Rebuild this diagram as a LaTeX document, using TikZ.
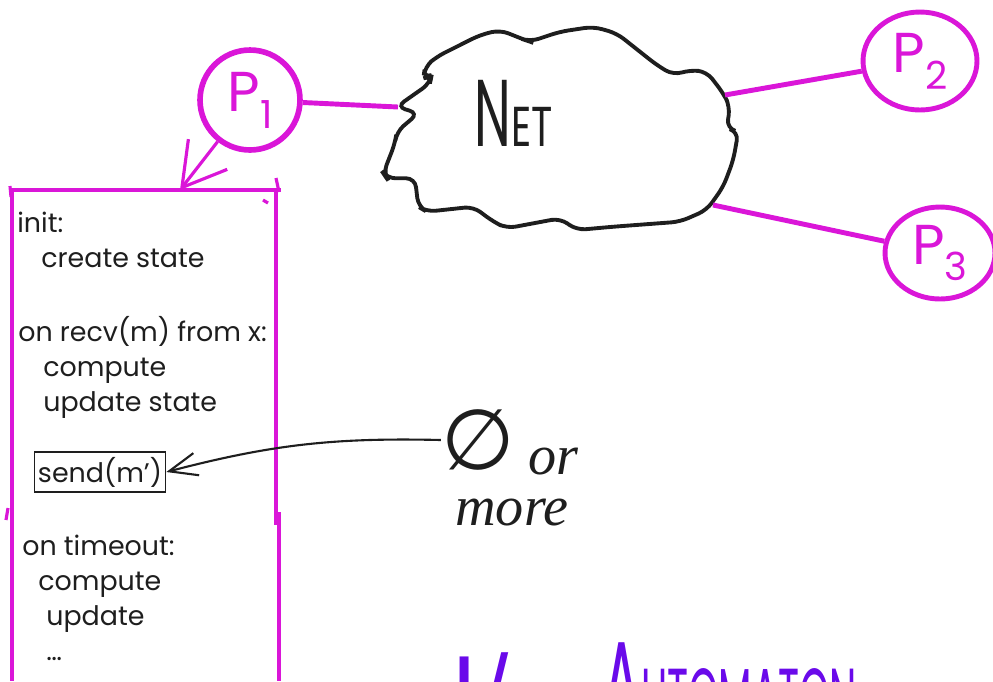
\documentclass[tikz,border=0pt]{standalone}
\usepackage{fontspec}
\setmainfont{Poppins}
\newfontfamily\notefont{Liberation Serif}
\newfontfamily\symfont{DejaVu Sans}
\usepackage{xcolor}
\usetikzlibrary{shapes.geometric,arrows.meta,positioning}

\definecolor{procpink}{RGB}{218,22,216}
\definecolor{autoviolet}{RGB}{106,10,234}
\definecolor{ink}{RGB}{30,30,30}

% subscript of a process name
\newcommand{\psub}[1]{\raisebox{-0.3em}{\fontsize{22}{22}\selectfont #1}}

\begin{document}
\begin{tikzpicture}[
  x=0.02cm, y=-0.02cm,
  proc/.style={ellipse, draw=procpink, line width=3.2pt, text=procpink,
               minimum width=2cm, minimum height=2cm, inner sep=0pt,
               font=\fontsize{32}{32}\selectfont},
  link/.style={procpink, line width=2.8pt},
  frame/.style={procpink, line width=1.8pt},
  code/.style={anchor=north west, align=left, inner sep=0pt, text=ink,
               font=\fontsize{15.3}{19.9}\selectfont},
  hand/.style={ink, line width=1.2pt},
  owner/.style={-{Straight Barb[length=24pt,width=28pt]}},
  note/.style={-{Straight Barb[length=16pt,width=13pt]}},
  notetext/.style={text=ink, anchor=base west, inner sep=0pt,
                   font=\notefont\itshape\fontsize{32}{32}\selectfont}
]
\useasboundingbox (0,0) rectangle (993,681);

% Processes
\node[proc] (p1) at (250,100) {P\psub{1}};
\node[proc, minimum width=2.28cm, minimum height=1.96cm, line width=2.8pt] (p2) at (920,61) {P\psub{2}};
\node[proc, minimum width=2.2cm, minimum height=1.84cm, line width=2.8pt] (p3) at (940,253) {P\psub{3}};

% Network cloud
\draw[ink, line width=2.2pt, rounded corners=5pt]
  (396.7,106.7) -- (418.3,113.3) -- (396.7,131.7) -- (395,143.3) -- (383.3,173.3)
  -- (386.7,178.3) -- (415,178.3) -- (418.3,206.7) -- (426.7,211.7) -- (473.3,206.7)
  -- (493.3,221.7) -- (506.7,228.3) -- (560,218.3) -- (576.7,230) -- (613.3,226.7)
  -- (680,221.7) -- (706.7,210) -- (723.3,186.7) -- (733.3,160) -- (738.3,131.7)
  -- (726.7,128.3) -- (730,106.7) -- (723.3,93.3) -- (706.7,71.7) -- (690,70)
  -- (673.3,75) -- (656.7,65) -- (616.7,33.3) -- (593.3,26.7) -- (560,31.7)
  -- (530,41.7) -- (525,40) -- (500,30) -- (480,35) -- (436.7,56.7)
  -- (425,66.7) -- (423.3,78.3) -- (431.7,75) -- (430,83.3) -- (413.3,95) -- cycle;
\node[text=ink] (net) at (514,113)
  {\scalebox{0.55}[1]{\fontsize{54}{54}\selectfont N}\scalebox{0.7}[1]{\fontsize{32}{32}\selectfont ET}};
\coordinate (netW) at (398,107);
\coordinate (netNE) at (725,95);
\coordinate (netSE) at (713,205);

% Links to the net
\draw[link] (p1) -- (netW);
\draw[link] (netNE) -- (p2);
\draw[link] (netSE) -- (p3);

% Frame of the P1 handlers
\coordinate (boxtop) at (180,190);
\draw[frame] (10,190) -- (281,190);
\draw[frame] (10,186) -- (11,197);
\draw[frame] (276,178) -- (279,192);
\draw[frame] (263,200) -- (268,203);
\draw[frame] (12,190) -- (12,681);
\draw[frame] (8,508) -- (6,520);
\draw[frame] (276,190) -- (276,525);
\draw[frame] (279,512) -- (279,681);
\draw[frame, owner] (p1) -- (boxtop);

% Handlers
\node[code] (initblk) at (17,212) {init:\\\hspace*{0.48cm}create state};
\node[code] (recvblk) at (18,316) {on recv(m) from x:\\\hspace*{0.5cm}compute\\\hspace*{0.5cm}update state};
\node[draw=ink, line width=0.9pt, text=ink, font=\fontsize{15.3}{15.3}\selectfont,
      minimum width=2.48cm, minimum height=0.8cm, inner sep=2pt] (send) at (100,472) {send(m’)};
\node[code] (timeoutblk) at (22,535) {on timeout:\\\hspace*{0.32cm}compute\\\hspace*{0.48cm}update\\\hspace*{0.48cm}\ldots};

% Note on sending
\node[text=ink, inner sep=0pt, font=\symfont\fontsize{48}{48}\selectfont] (zero) at (478,440) {∅};
\node[notetext] (orw) at (528,474) {or};
\node[notetext] (more) at (455,525) {more};
\draw[hand, note] (zero.west) to[bend right=8] (send.east);

% Title along the bottom
\node[text=autoviolet, anchor=base west, inner sep=0pt] (title) at (452,725)
  {{\fontsize{56}{56}\selectfont I}{\fontsize{44}{44}\selectfont /}{\fontsize{32}{32}\selectfont O}\hspace{0.9cm}\scalebox{0.48}[1]{{\fontsize{68}{68}\selectfont A}{\fontsize{46}{46}\selectfont UTOMATON}}};
\end{tikzpicture}
\end{document}
